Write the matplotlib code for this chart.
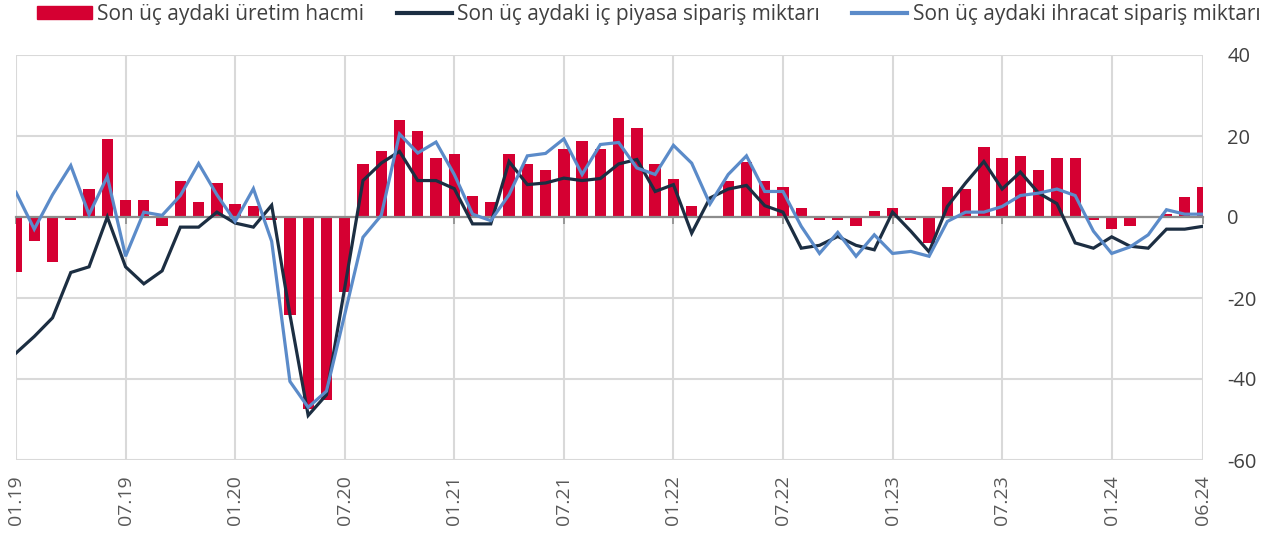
import numpy as np
import matplotlib.pyplot as plt
import matplotlib as mpl
from matplotlib.patches import Patch
from matplotlib.lines import Line2D

mpl.rcParams.update({
    'font.family': ['Open Sans', 'DejaVu Sans'],
    'font.size': 13,
    'text.color': '#404040',
    'axes.unicode_minus': False,
})

# monthly data, 01.19 .. 06.24
months = [f'{m:02d}.{y:02d}' for y in range(19, 25) for m in range(1, 13)][:66]

production = [
    -13.7, -6.0, -11.1, -0.8, 6.9, 19.3, 4.3, 4.3, -2.3, 9.0, 3.8, 8.4,
    3.2, 2.8, -0.8, -24.1, -47.4, -45.3, -18.4, 13.1, 16.2, 24.0, 21.3, 14.6,
    15.6, 5.3, 3.8, 15.6, 13.1, 11.5, 16.8, 18.8, 16.8, 24.4, 21.9, 13.1,
    9.5, 2.8, 0.2, 9.0, 13.7, 9.0, 7.4, 2.2, -0.8, -0.8, -2.3, 1.6,
    2.2, -0.8, -6.4, 7.4, 6.9, 17.2, 14.6, 15.1, 11.5, 14.6, 14.6, -0.8,
    -2.9, -2.3, 0.2, 0.7, 4.9, 7.4,
]
domestic_orders = [
    -33.6, -29.5, -24.9, -13.7, -12.3, 0.0, -12.3, -16.5, -13.3, -2.5, -2.5, 1.2,
    -1.5, -2.5, 2.9, -24.1, -49.0, -43.9, -17.5, 9.0, 13.3, 16.2, 9.0, 9.0,
    7.0, -1.7, -1.7, 13.7, 8.0, 8.4, 9.6, 9.0, 9.5, 13.1, 14.2, 6.3,
    8.0, -4.0, 4.7, 6.9, 7.8, 2.8, 1.2, -7.7, -7.0, -4.8, -7.0, -8.1,
    1.2, -3.5, -8.6, 2.6, 8.4, 13.7, 6.9, 11.1, 5.9, 3.3, -6.4, -7.7,
    -4.9, -7.2, -7.7, -3.0, -3.0, -2.3,
]
export_orders = [
    6.1, -3.0, 5.5, 12.7, 0.6, 10.0, -9.7, 1.2, 0.4, 5.3, 13.2, 5.5,
    -1.1, 7.0, -6.0, -40.6, -47.0, -43.0, -24.1, -5.0, 0.4, 20.5, 15.8, 18.5,
    10.5, 0.7, -0.9, 5.5, 15.1, 15.7, 19.3, 10.5, 17.9, 18.4, 12.1, 10.5,
    17.7, 13.3, 3.2, 10.5, 15.1, 6.3, 6.3, -2.3, -9.0, -3.8, -9.7, -4.4,
    -9.0, -8.5, -9.7, -1.1, 1.2, 1.2, 2.6, 5.3, 5.9, 6.9, 5.3, -3.5,
    -9.0, -7.4, -4.4, 1.8, 0.7, 0.7,
]

RED = '#d50032'
NAVY = '#1c2e42'
BLUE = '#5b8bc9'
GRID = '#d9d9d9'

fig = plt.figure(figsize=(12.77, 5.39), dpi=100)
ax = fig.add_axes([16/1277, 1 - 460/539, (1203 - 16)/1277, (460 - 55)/539])

x = np.arange(len(months))
ax.bar(x, production, width=0.62, color=RED, zorder=1)
ax.plot(x, domestic_orders, color=NAVY, lw=2.3, zorder=3, solid_joinstyle='miter')
ax.plot(x, export_orders, color=BLUE, lw=2.3, zorder=4, solid_joinstyle='miter')

ax.set_xlim(0, len(months) - 1)
ax.set_ylim(-60, 40)
ax.set_yticks(range(-60, 41, 20))

tick_idx = list(range(0, len(months), 6)) + [len(months) - 1]
ax.set_xticks(tick_idx)

# zero line with small ticks, labels on a secondary axis at the bottom
for s in ['top', 'right', 'left']:
    ax.spines[s].set_visible(False)
ax.spines['bottom'].set_position(('data', 0))
ax.spines['bottom'].set_color('#8c8c8c')
ax.spines['bottom'].set_linewidth(1.6)
ax.spines['bottom'].set_zorder(2.5)
ax.tick_params(axis='x', direction='out', length=5, width=1.2, color='#8c8c8c', labelbottom=False)
ax.tick_params(axis='y', left=False, right=False, labelleft=False, labelright=True,
               pad=14, labelsize=14.5, labelcolor='#404040')

ax.grid(True, color=GRID, lw=1.5, zorder=0)
ax.set_axisbelow(True)

sec = ax.secondary_xaxis('bottom')
sec.set_xticks(tick_idx)
sec.set_xticklabels([months[i] for i in tick_idx], rotation=90, fontsize=14, color='#595959')
sec.tick_params(length=0, pad=11)
sec.spines['bottom'].set_visible(False)

handles = [
    Patch(color=RED),
    Line2D([], [], color=NAVY, lw=3),
    Line2D([], [], color=BLUE, lw=3),
]
labels = ['Son üç aydaki üretim hacmi', 'Son üç aydaki iç piyasa sipariş miktarı',
          'Son üç aydaki ihracat sipariş miktarı']
fig.legend(handles, labels, loc='upper left', bbox_to_anchor=(37/1277, 1 - 4/539), ncol=3,
           frameon=False, fontsize=15, handlelength=2.65, handletextpad=0.25,
           columnspacing=1.55, handleheight=0.6, borderpad=0, borderaxespad=0)

fig.savefig('out.png', dpi=100)
